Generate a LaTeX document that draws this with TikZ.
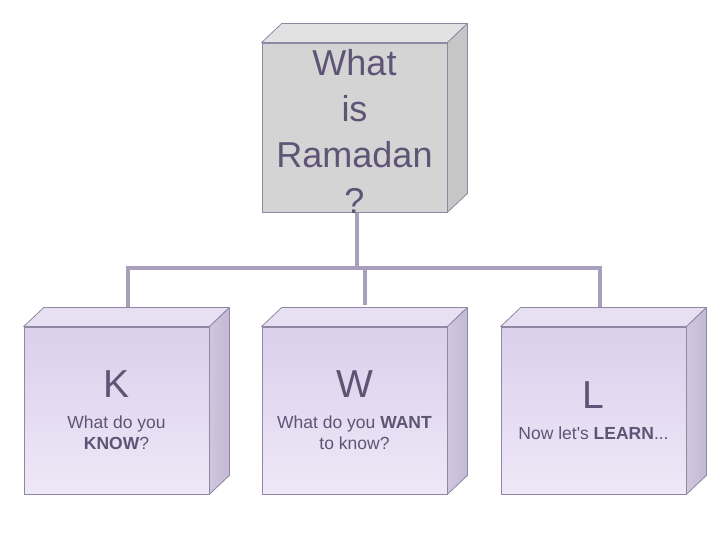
\documentclass[tikz,border=0pt]{standalone}
\usepackage{fontspec}
\setmainfont{Liberation Sans}
\usetikzlibrary{calc}
\definecolor{Ink}{HTML}{5E5475}
\definecolor{Edge}{HTML}{8F88A2}
\definecolor{Wire}{HTML}{A79FBB}
\definecolor{GreyFront}{HTML}{D4D4D4}
\definecolor{GreyTop}{HTML}{E2E2E2}
\definecolor{GreySide}{HTML}{C6C6C6}
\definecolor{LilacHigh}{HTML}{DBCFEC}
\definecolor{LilacLow}{HTML}{EEE8F7}
\definecolor{LilacTop}{HTML}{E7DFF2}
\definecolor{LilacSide}{HTML}{C4B9D5}
\tikzset{
  front/.style={draw=Edge,line width=.8pt,minimum width=185pt,minimum height=167pt,align=center,text=Ink,inner sep=0pt},
  qbox/.style={front,fill=GreyFront,minimum height=169pt},
  qtext/.style={align=center,text=Ink,inner sep=0pt,font=\fontsize{36}{46}\selectfont},
  kwl/.style={front,top color=LilacHigh,bottom color=LilacLow,font=\fontsize{17.5}{21.5}\selectfont},
  greytop/.style={fill=GreyTop,draw=Edge,line width=.8pt,line join=round},
  greyside/.style={fill=GreySide,draw=Edge,line width=.8pt,line join=round},
  lilactop/.style={fill=LilacTop,draw=Edge,line width=.8pt,line join=round},
  lilacside/.style={left color=LilacSide!80!white,right color=LilacSide,draw=Edge,line width=.8pt,line join=round},
  link/.style={draw=Wire,line width=3.2pt}
}
\newcommand{\bigletter}[1]{{\fontsize{39}{30}\selectfont #1}}
\begin{document}
\begin{tikzpicture}[x=1pt,y=1pt]
  \useasboundingbox (0,0) rectangle (720,540);
  % connectors first, the cubes sit on top of them
  \coordinate (ktop) at (128,233);
  \coordinate (wtop) at (365,235);
  \coordinate (ltop) at (600,233);
  \draw[link] (357,328) -- (357,272) coordinate (fork);
  \draw[link] (ktop) |- (fork) -| (ltop);
  \draw[link] (wtop) -- (wtop |- fork);
  % the question
  \node[qbox] (ramadan) at (354.5,412.5) {};
  \draw[greytop] (ramadan.north west) -- ++(20,19) -- ($(ramadan.north east)+(20,19)$) -- (ramadan.north east) -- cycle;
  \draw[greyside] (ramadan.north east) -- ++(20,19) -- ($(ramadan.south east)+(20,19)$) -- (ramadan.south east) -- cycle;
  \node[qtext] (question) at ($(ramadan.center)+(0,-4)$) {What\\is\\Ramadan\\?};
  % K W L cubes
  \node[kwl] (know) at (116.5,129.5) {\bigletter{K}\\[9pt]What do you\\\textbf{KNOW}?};
  \node[kwl] (want) at (354.5,129.5) {\bigletter{W}\\[9pt]What do you \textbf{WANT}\\to know?};
  \node[kwl] (learn) at (593.5,129.5) {\bigletter{L}\\[9pt]Now let\textquotesingle s \textbf{LEARN}...};
  \foreach \n in {know,want,learn} {
    \draw[lilactop] (\n.north west) -- ++(20,19) -- ($(\n.north east)+(20,19)$) -- (\n.north east) -- cycle;
    \draw[lilacside] (\n.north east) -- ++(20,19) -- ($(\n.south east)+(20,19)$) -- (\n.south east) -- cycle;
  }
\end{tikzpicture}
\end{document}
